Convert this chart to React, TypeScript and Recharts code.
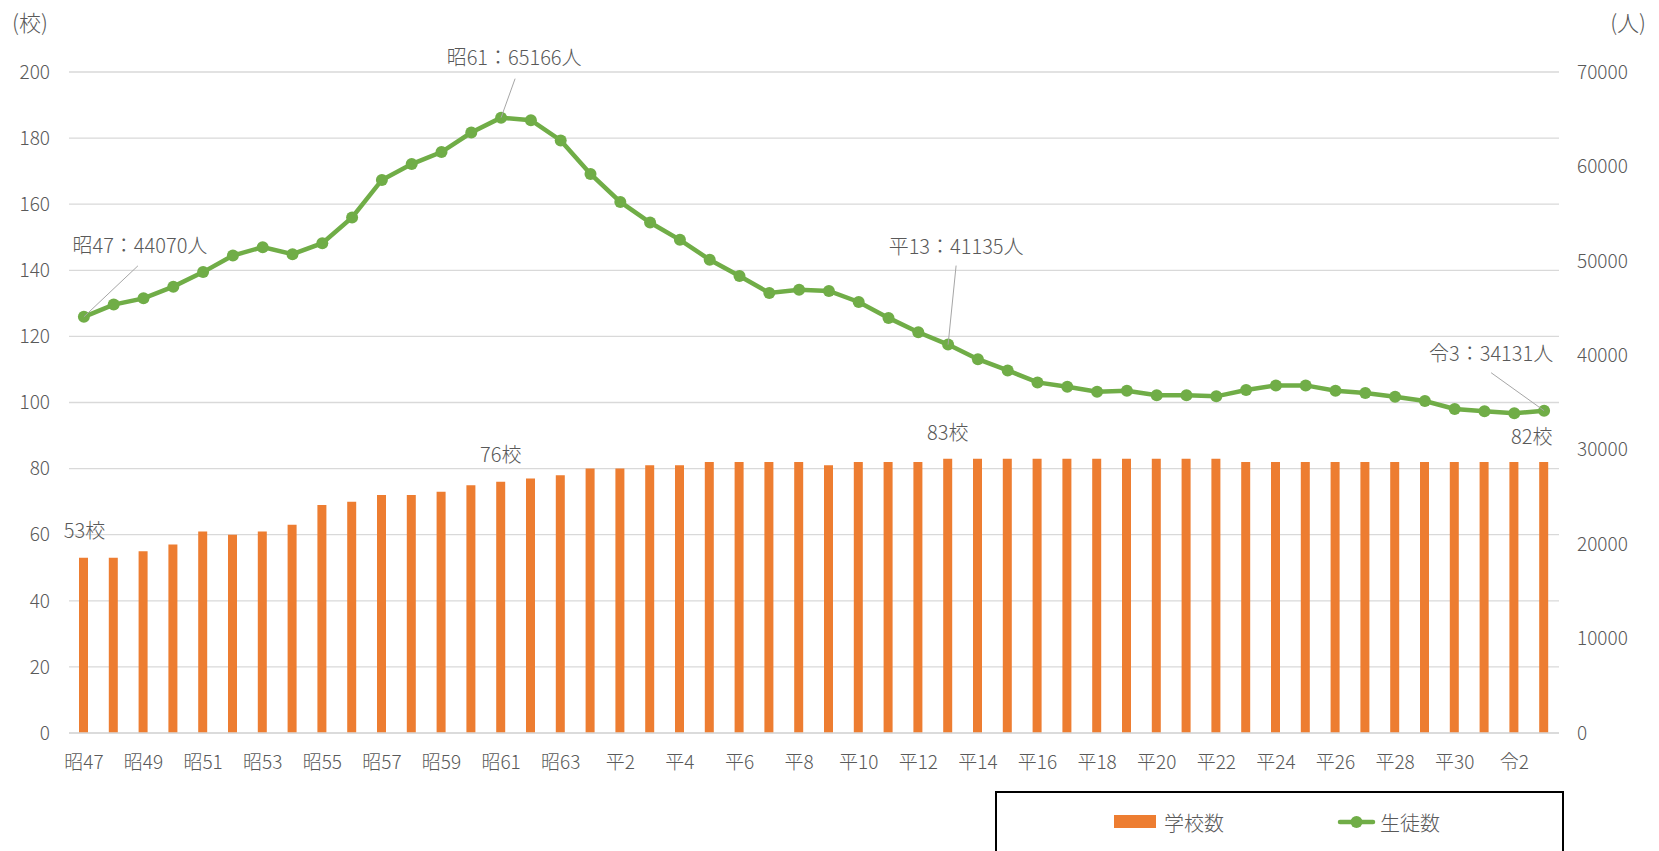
import React from 'react';
import { ComposedChart, Bar, Line, XAxis, YAxis, CartesianGrid, Legend, LabelList, Label } from 'recharts';

const categories = [
  '昭47', '昭48', '昭49', '昭50', '昭51', '昭52', '昭53', '昭54', '昭55', '昭56',
  '昭57', '昭58', '昭59', '昭60', '昭61', '昭62', '昭63',
  '平元', '平2', '平3', '平4', '平5', '平6', '平7', '平8', '平9', '平10',
  '平11', '平12', '平13', '平14', '平15', '平16', '平17', '平18', '平19', '平20',
  '平21', '平22', '平23', '平24', '平25', '平26', '平27', '平28', '平29', '平30',
  '令元', '令2', '令3',
];

// 学校数 (校)
const schools = [
  53, 53, 55, 57, 61, 60, 61, 63, 69, 70,
  72, 72, 73, 75, 76, 77, 78,
  80, 80, 81, 81, 82, 82, 82, 82, 81, 82,
  82, 82, 83, 83, 83, 83, 83, 83, 83, 83,
  83, 83, 82, 82, 82, 82, 82, 82, 82, 82,
  82, 82, 82,
];

// 生徒数 (人)
const students = [
  44070, 45370, 46030, 47270, 48810, 50570, 51450, 50710, 51870, 54590,
  58570, 60250, 61520, 63590, 65166, 64900, 62750,
  59200, 56240, 54060, 52230, 50120, 48390, 46600, 46950, 46810, 45650,
  43960, 42440, 41135, 39590, 38400, 37130, 36670, 36140, 36250, 35760,
  35760, 35650, 36320, 36810, 36810, 36250, 36000, 35610, 35160, 34310,
  34070, 33860, 34131,
];

const leftTicks = [0, 20, 40, 60, 80, 100, 120, 140, 160, 180, 200];
const rightTicks = [0, 10000, 20000, 30000, 40000, 50000, 60000, 70000];

// which points get a callout: index -> offsets of text centre / leader end
const schoolCallouts: Record<number, { dx: number; dy: number }> = {
  0: { dx: 1, dy: -28 },
  14: { dx: 0, dy: -28 },
  29: { dx: 0, dy: -27 },
  49: { dx: -12, dy: -26 },
};

const studentCallouts: Record<number, { dx: number; dy: number; lx: number; ly: number }> = {
  0: { dx: 56, dy: -72, lx: 54, ly: -51 },
  14: { dx: 13, dy: -61, lx: 14, ly: -39 },
  29: { dx: 8, dy: -99, lx: 8, ly: -79 },
  49: { dx: -53, dy: -58, lx: -53, ly: -38 },
};

const data = categories.map((name, i) => ({ name, schools: schools[i], students: students[i] }));

const TEXT = '#595959';
const ORANGE = '#ED7D31';
const GREEN = '#70AD47';
const FONT = '"Noto Sans CJK JP", "Noto Sans", sans-serif';

const renderSchoolLabel = (props: any) => {
  const { x, y, width, value, index } = props;
  const c = schoolCallouts[index];
  if (!c) return null;
  return (
    <text x={x + width / 2 + c.dx} y={y + c.dy} textAnchor="middle" dominantBaseline="central" fill={TEXT} fontSize={20}>
      {value}校
    </text>
  );
};

const renderStudentLabel = (props: any) => {
  const { x, y, value, index } = props;
  const c = studentCallouts[index];
  if (!c) return null;
  return (
    <g>
      <line x1={x} y1={y} x2={x + c.lx} y2={y + c.ly} stroke="#a6a6a6" strokeWidth={1} />
      <text x={x + c.dx} y={y + c.dy} textAnchor="middle" dominantBaseline="central" fill={TEXT} fontSize={20}>
        {categories[index]}：{value}人
      </text>
    </g>
  );
};

const renderLegend = () => (
  <div style={{ width: 569, height: 72, border: '2px solid #000', boxSizing: 'border-box', background: '#fff' }}>
    <svg width={565} height={68}>
      <rect x={117} y={22} width={42} height={13} fill={ORANGE} />
      <text x={167} y={29} dominantBaseline="central" fill={TEXT} fontSize={20} fontFamily={FONT}>学校数</text>
      <line x1={343} y1={29} x2={376} y2={29} stroke={GREEN} strokeWidth={4.5} strokeLinecap="round" />
      <circle cx={359.5} cy={29} r={6} fill={GREEN} />
      <text x={383} y={29} dominantBaseline="central" fill={TEXT} fontSize={20} fontFamily={FONT}>生徒数</text>
    </svg>
  </div>
);

const App: React.FC = () => {
  return (
    <div style={{ position: 'absolute', left: 0, top: 0, width: 1659, height: 851, background: '#fff', fontFamily: FONT, fontWeight: 300 }}>
      <ComposedChart
        width={1659}
        height={851}
        data={data}
        margin={{ top: 72, right: 0, bottom: 58, left: 0 }}
        barSize={9}
      >
        <CartesianGrid yAxisId="left" vertical={false} stroke="#d9d9d9" strokeWidth={1.3} />
        <XAxis
          dataKey="name"
          interval={1}
          height={60}
          tickLine={false}
          axisLine={{ stroke: '#d9d9d9', strokeWidth: 1.5 }}
          tick={{ fill: TEXT, fontSize: 19 }}
          tickMargin={17}
        />
        <YAxis
          yAxisId="left"
          orientation="left"
          width={69}
          domain={[0, 200]}
          ticks={leftTicks}
          tickLine={false}
          axisLine={false}
          tick={{ fill: TEXT, fontSize: 19 }}
          tickMargin={13}
        >
          <Label
            content={(p: any) => (
              <text x={12} y={p.viewBox.y - 51} dominantBaseline="central" fill={TEXT} fontSize={22}>(校)</text>
            )}
          />
        </YAxis>
        <YAxis
          yAxisId="right"
          orientation="right"
          width={100}
          domain={[0, 70000]}
          ticks={rightTicks}
          tickLine={false}
          axisLine={false}
          tick={{ fill: TEXT, fontSize: 19 }}
          tickMargin={12}
        >
          <Label
            content={(p: any) => (
              <text x={1646} y={p.viewBox.y - 51} textAnchor="end" dominantBaseline="central" fill={TEXT} fontSize={22}>(人)</text>
            )}
          />
        </YAxis>
        <Legend
          layout="vertical"
          align="center"
          verticalAlign="middle"
          content={renderLegend}
          wrapperStyle={{ left: 995, top: 791, width: 569, height: 72 }}
        />
        <Bar yAxisId="left" dataKey="schools" name="学校数" fill={ORANGE} isAnimationActive={false}>
          <LabelList dataKey="schools" content={renderSchoolLabel} />
        </Bar>
        <Line
          yAxisId="right"
          dataKey="students"
          name="生徒数"
          stroke={GREEN}
          strokeWidth={4.5}
          dot={{ r: 6, fill: GREEN, stroke: GREEN, strokeWidth: 0 }}
          activeDot={false}
          isAnimationActive={false}
        >
          <LabelList dataKey="students" content={renderStudentLabel} />
        </Line>
      </ComposedChart>
    </div>
  );
};

export default App;
